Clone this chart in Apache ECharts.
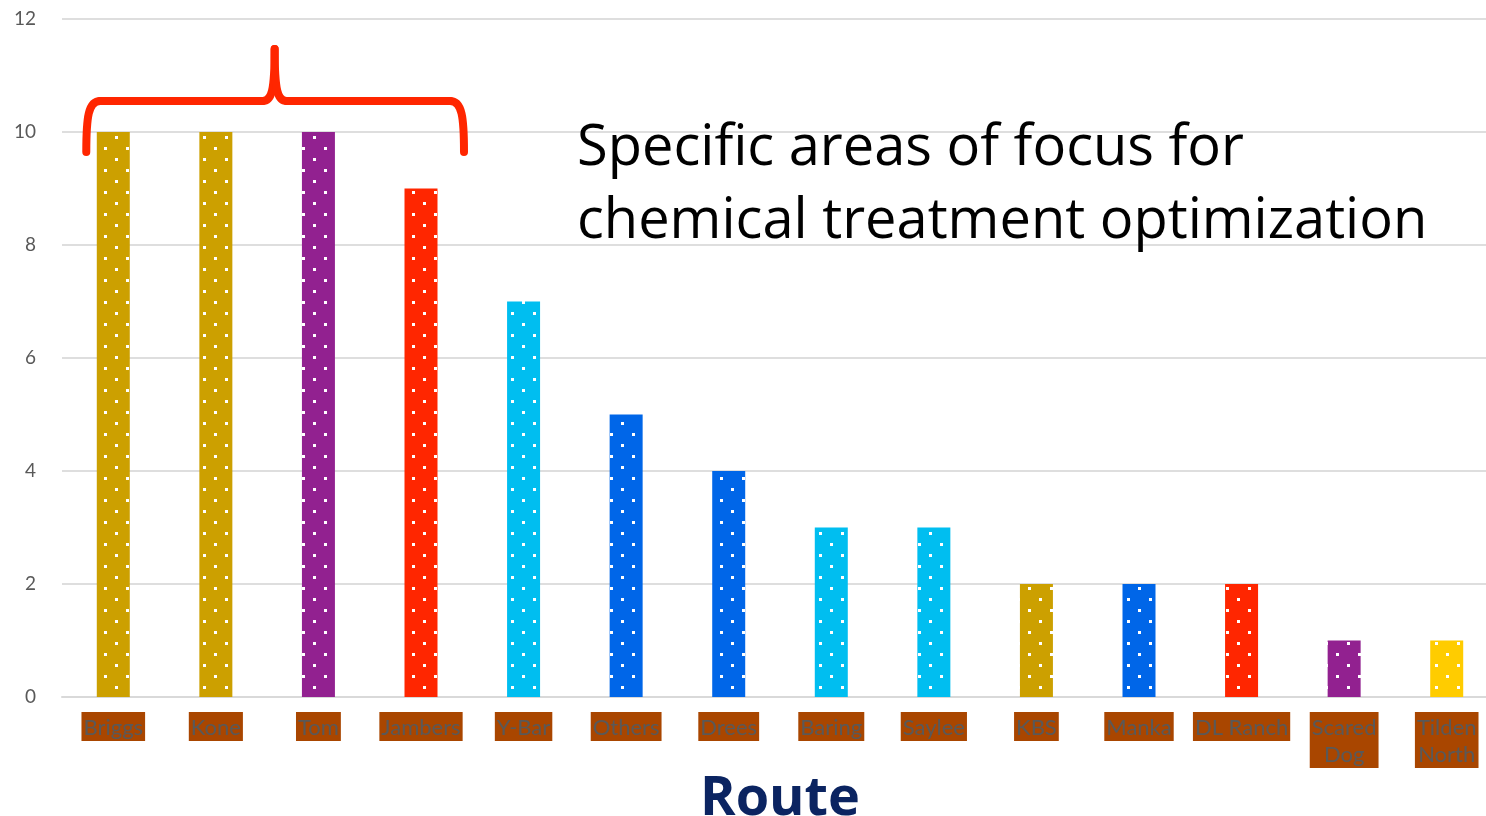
<!DOCTYPE html>
<html>
<head>
<meta charset="utf-8">
<script src="https://cdn.jsdelivr.net/npm/echarts@6/dist/echarts.min.js"></script>
<style>
  html, body { margin: 0; padding: 0; background: #ffffff; }
  #chart { width: 1486px; height: 816px; }
</style>
</head>
<body>
<div id="chart"></div>
<script>
// Routes and their counts
const routes = ['Briggs', 'Kone', 'Tom', 'Jambers', 'Y-Bar', 'Others', 'Drees', 'Baring',
                'Saylee', 'KBS', 'Manka', 'DL Ranch', 'Scared Dog', 'Tilden North'];
const counts = [10, 10, 10, 9, 7, 5, 4, 3, 3, 2, 2, 2, 1, 1];
const yTicks = { min: 0, max: 12, step: 2 };

// Fill colour of each route's bar
const GOLD = '#CCA000', PURPLE = '#922190', RED = '#FF2600',
      CYAN = '#00BEF0', BLUE = '#0066E8', YELLOW = '#FFCC00';
const barColors = [GOLD, GOLD, PURPLE, RED, CYAN, BLUE, BLUE, CYAN,
                   CYAN, GOLD, BLUE, RED, PURPLE, YELLOW];

// Small white dot pattern laid over a solid fill
const patternCache = {};
function dotted(base) {
  if (patternCache[base]) return patternCache[base];
  const c = document.createElement('canvas');
  c.width = 22; c.height = 22;
  const g = c.getContext('2d');
  g.fillStyle = base;
  g.fillRect(0, 0, 22, 22);
  g.fillStyle = '#ffffff';
  g.fillRect(5, 4, 3, 3);
  g.fillRect(16, 15, 3, 3);
  return (patternCache[base] = { image: c, repeat: 'repeat' });
}

const chart = echarts.init(document.getElementById('chart'));
const FONT = 'Lato, "Open Sans", sans-serif';
const WIDE = '"Open Sans", Lato, sans-serif';

chart.setOption({
  animation: false,
  grid: { left: 62, right: -12, top: 19, bottom: 119, containLabel: false, outerBoundsMode: 'none' },
  xAxis: {
    type: 'category',
    data: routes,
    name: 'Route',
    nameLocation: 'middle',
    nameGap: 62,
    nameTextStyle: { color: '#0B2461', fontSize: 54, fontWeight: 'bold', fontFamily: WIDE },
    axisLine: { lineStyle: { color: '#d9d9d9', width: 2 } },
    axisTick: { show: false },
    axisLabel: {
      interval: 0,
      margin: 15,
      color: '#595959',
      fontSize: 22,
      fontFamily: FONT,
      lineHeight: 27,
      padding: [2, 2, 0, 2],
      backgroundColor: '#A94600',
      formatter: function (v) { return v.length > 9 ? v.replace(' ', '\n') : v; }
    }
  },
  yAxis: {
    type: 'value',
    min: yTicks.min,
    max: yTicks.max,
    interval: yTicks.step,
    axisLine: { show: false },
    axisTick: { show: false },
    axisLabel: { color: '#595959', fontSize: 19, fontFamily: FONT, margin: 26 },
    splitLine: { lineStyle: { color: '#dedede', width: 2 } }
  },
  series: [{
    type: 'bar',
    barWidth: 33,
    data: counts.map((v, i) => ({ value: v, itemStyle: { color: dotted(barColors[i]) } }))
  }]
});

// Curly brace over the four leading routes, plus the note beside it
const L = chart.convertToPixel({ xAxisIndex: 0 }, routes[0]) - 27;
const R = chart.convertToPixel({ xAxisIndex: 0 }, routes[3]) + 43;
const top10 = chart.convertToPixel({ yAxisIndex: 0 }, counts[0]);
const M = (L + R) / 2 - 0.5;
const baseY = top10 + 20, barY = top10 - 31, tipY = top10 - 83;

const braceStyle = { fill: null, stroke: '#FF2600', lineWidth: 8, lineCap: 'round', lineJoin: 'round' };
const seg = (shape) => ({ type: 'bezierCurve', shape: shape, style: braceStyle });
const bar = (x1, x2) => ({ type: 'line', shape: { x1: x1, y1: barY, x2: x2, y2: barY }, style: braceStyle });

chart.setOption({
  graphic: [
    {
      type: 'group',
      children: [
        seg({ x1: L, y1: baseY, cpx1: L, cpy1: barY + 16, cpx2: L + 2, cpy2: barY, x2: L + 14, y2: barY }),
        bar(L + 14, M - 12),
        seg({ x1: M - 12, y1: barY, cpx1: M - 3, cpy1: barY, cpx2: M, cpy2: barY - 10, x2: M, y2: tipY }),
        seg({ x1: M, y1: tipY, cpx1: M, cpy1: barY - 10, cpx2: M + 3, cpy2: barY, x2: M + 12, y2: barY }),
        bar(M + 12, R - 14),
        seg({ x1: R - 14, y1: barY, cpx1: R - 2, cpy1: barY, cpx2: R, cpy2: barY + 16, x2: R, y2: baseY })
      ]
    },
    {
      type: 'text',
      left: 577,
      top: 113,
      style: {
        text: 'Specific areas of focus for\nchemical treatment optimization',
        fill: '#000000',
        font: '56px ' + WIDE,
        lineHeight: 73
      }
    }
  ]
});
</script>
</body>
</html>
